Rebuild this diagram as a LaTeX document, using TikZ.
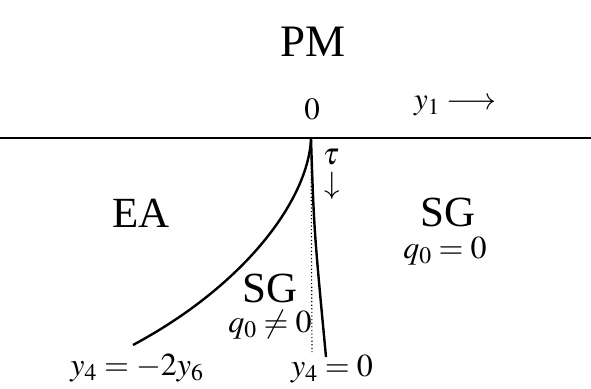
\documentclass[tikz,border=0pt]{standalone}
\usepackage{mathptmx}
\usepackage{fontspec}
\setmainfont{Liberation Serif}
\begin{document}
\begin{tikzpicture}[x=1pt,y=-1pt,
  every node/.style={inner sep=0pt},
  big/.style={font=\fontsize{45}{50}\selectfont},
  mid/.style={font=\fontsize{43}{48}\selectfont},
  lab/.style={font=\fontsize{31}{34}\selectfont},
  sml/.style={font=\fontsize{32}{36}\selectfont},
  bound/.style={line width=2.4pt}]
\useasboundingbox (0,0) rectangle (591,388);
\node[big] (pm) at (313,42) {PM};
\coordinate (L) at (0,138);
\coordinate (R) at (591,138);
\coordinate (O) at (311,139);
\draw[line width=2.7pt] (L) -- (R);
\node[lab] (zero) at (312,109) {$0$};
\node[lab,anchor=west] (y1) at (414,106) {$y_1\longrightarrow$};
\coordinate (A) at (133,345);
\coordinate (B) at (326,357);
\coordinate (C) at (312,352);
\draw[bound] (O) .. controls (308,200) and (245,285) .. (A);
\draw[bound] (O) .. controls (314,230) .. (B);
\draw[line width=1.1pt, dash pattern=on 1.2pt off 2.4pt] (O) -- (C);
\node[lab] (tau) at (331,157) {$\tau$};
\node[lab] (dn) at (332,186) {$\downarrow$};
\node[mid] (ea) at (141,213) {EA};
\node[mid] (sg1) at (448,212) {SG};
\node[sml] (q1) at (445,251) {$q_0=0$};
\node[mid] (sg2) at (270,288) {SG};
\node[sml] (q2) at (270,325) {$q_0\neq0$};
\node[sml] (e1) at (137,368) {$y_4=-2y_6$};
\node[sml] (e2) at (332,369) {$y_4=0$};
\end{tikzpicture}
\end{document}
